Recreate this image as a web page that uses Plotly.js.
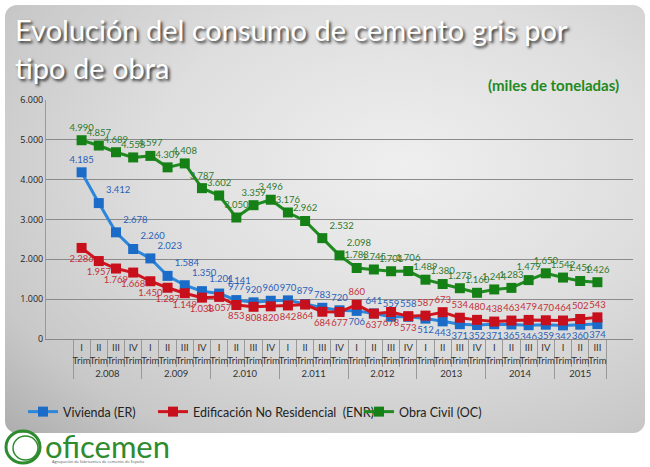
<!DOCTYPE html>
<html>
<head>
<meta charset="utf-8">
<script src="https://cdn.plot.ly/plotly-3.0.1.min.js"></script>
<style>
  html, body { margin: 0; padding: 0; background: #ffffff; }
  #wrap { position: relative; width: 650px; height: 467px; overflow: hidden; }
  #bg { position: absolute; left: 5px; top: 5px; width: 640px; height: 428px; border-radius: 12px;
        background: radial-gradient(ellipse at 62% 38%, #efefef 0%, #dedede 45%, #c8c8c8 80%, #adadad 100%); }
  #chart { position: absolute; left: 0; top: 0; width: 650px; height: 467px; }
</style>
</head>
<body>
<div id="wrap"><div id="bg"></div><div id="chart"></div></div>
<script>
// ---- data ----
const years = ["2.008","2.008","2.008","2.008","2.009","2.009","2.009","2.009",
               "2.010","2.010","2.010","2.010","2.011","2.011","2.011","2.011",
               "2.012","2.012","2.012","2.012","2013","2013","2013","2013",
               "2014","2014","2014","2014","2015","2015","2015"];
const quarters = ["I<br>Trim","II<br>Trim","III<br>Trim","IV<br>Trim",
                  "I<br>Trim","II<br>Trim","III<br>Trim","IV<br>Trim",
                  "I<br>Trim","II<br>Trim","III<br>Trim","IV<br>Trim",
                  "I<br>Trim","II<br>Trim","III<br>Trim","IV<br>Trim",
                  "I<br>Trim","II<br>Trim","III<br>Trim","IV<br>Trim",
                  "I<br>Trim","II<br>Trim","III<br>Trim","IV<br>Trim",
                  "I<br>Trim","II<br>Trim","III<br>Trim","IV<br>Trim",
                  "I<br>Trim","II<br>Trim","III<br>Trim"];
const vivienda = [4185,3412,2678,2260,2023,1584,1350,1201,1141,977,920,960,970,879,783,720,
                  706,641,559,558,512,443,371,352,371,365,346,359,342,360,374];
const noResidencial = [2286,1957,1769,1668,1450,1287,1149,1038,1057,853,808,820,842,864,684,677,
                       860,637,678,573,587,673,534,480,438,463,479,470,464,502,543];
const obraCivil = [4990,4857,4689,4558,4597,4309,4408,3787,3602,3050,3359,3496,3176,2962,2532,2098,
                   1783,1745,1701,1706,1489,1380,1275,1160,1244,1283,1479,1650,1542,1456,1426];
const seriesNames = ["Vivienda (ER)","Edificación No Residencial  (ENR)","Obra Civil (OC)"];
const yTicks = [0,1000,2000,3000,4000,5000,6000];

// ---- label placement (style only) ----
const posBlue = vivienda.map((v,i) => {
  if (i === 0) return "top center";
  if (i >= 1 && i <= 8) return "top right";
  if (i === 16) return "bottom center";
  if (i >= 20) return "bottom center";
  return "top center";
});
const posRed = noResidencial.map((v,i) => {
  if (i === 16) return "top center";
  if (i >= 17 && i <= 19) return "bottom center";
  if (i >= 20) return "top center";
  return "bottom center";
});
const posGreen = obraCivil.map((v,i) => (i === 14 || i === 15) ? "top right" : "top center");

const x = [years, quarters];
const labFont = "Lato, Open Sans, sans-serif";

function trace(name, y, lineColor, markColor, txtColor, pos, legend) {
  return {
    type: "scatter", mode: "lines+markers+text", name: name, x: x, y: y,
    line: {color: lineColor, width: 3},
    marker: {symbol: "square", size: 10, color: markColor, line: {color: markColor, width: 0}},
    texttemplate: "%{y:,d}", textposition: pos,
    textfont: {family: labFont, size: 9.5, color: txtColor},
    legend: legend, cliponaxis: false, hoverinfo: "skip"
  };
}

const data = [
  trace(seriesNames[0], vivienda, "#2c86db", "#1a6cc8", "#2a60b8", posBlue, "legend"),
  trace(seriesNames[1], noResidencial, "#d0141e", "#c8101c", "#c4303a", posRed, "legend2"),
  trace(seriesNames[2], obraCivil, "#1f8a1f", "#158015", "#2e7a2e", posGreen, "legend3")
];

function px2x(p) { return (p - 46) / 587; }
function px2y(p) { return (339 - p) / 239; }

const legendFont = {family: "Lato, Open Sans, sans-serif", size: 12.5, color: "#222"};
const legBase = {orientation: "h", bgcolor: "rgba(0,0,0,0)", font: legendFont, yanchor: "middle",
                 xanchor: "left", itemwidth: 30, tracegroupgap: 0};

const layout = {
  width: 650, height: 467,
  margin: {l: 46, r: 17, t: 100, b: 128},
  paper_bgcolor: "rgba(0,0,0,0)", plot_bgcolor: "rgba(0,0,0,0)",
  separators: ",.",
  showlegend: true,
  xaxis: {
    type: "multicategory", showgrid: false, showline: true, linecolor: "#888", linewidth: 1,
    ticks: "outside", tickson: "boundaries", ticklen: 27, tickcolor: "#999", tickwidth: 1,
    tickangle: 0,
    tickfont: {family: labFont, size: 9.5, color: "#333"},
    dividercolor: "#999", dividerwidth: 1, zeroline: false
  },
  yaxis: {
    range: [0, 6000], tickvals: yTicks, tickformat: ",d",
    showgrid: true, gridcolor: "#8a8a8a", gridwidth: 1,
    showline: true, linecolor: "#999", linewidth: 1, zeroline: false,
    ticks: "", tickfont: {family: "Open Sans, Arial, sans-serif", size: 9, color: "#222"}
  },
  legend:  Object.assign({}, legBase, {x: px2x(23), y: px2y(412)}),
  legend2: Object.assign({}, legBase, {x: px2x(153), y: px2y(412)}),
  legend3: Object.assign({}, legBase, {x: px2x(359), y: px2y(412)}),
  annotations: [
    {text: "Evolución del consumo de cemento gris por<br>tipo de obra", xref: "paper", yref: "paper",
     x: px2x(13), y: px2y(10), xanchor: "left", yanchor: "top", align: "left", showarrow: false,
     font: {family: "Lato, Open Sans, sans-serif", size: 29, color: "#ffffff",
            shadow: "2px 2px 3px rgba(0,0,0,0.8)"}},
    {text: "<b>(miles de toneladas)</b>", xref: "paper", yref: "paper", x: px2x(621), y: px2y(85),
     xanchor: "right", yanchor: "middle", showarrow: false,
     font: {family: "Lato, Open Sans, sans-serif", size: 15, color: "#1f8a1f"}},
    {text: "oficemen", xref: "paper", yref: "paper", x: px2x(43), y: px2y(446),
     xanchor: "left", yanchor: "middle", showarrow: false,
     font: {family: "Lato, Open Sans, sans-serif", size: 31, color: "#2e8b2e"}},
    {text: "Agrupación de fabricantes de cemento de España", xref: "paper", yref: "paper",
     x: px2x(50), y: px2y(461), xanchor: "left", yanchor: "middle", showarrow: false,
     font: {family: "Open Sans, Arial, sans-serif", size: 4, color: "#555"}}
  ],
  shapes: [
    {type: "circle", xref: "paper", yref: "paper", x0: px2x(6), x1: px2x(40), y0: px2y(463), y1: px2y(431),
     line: {color: "#2e8b2e", width: 3}, fillcolor: "rgba(0,0,0,0)"},
    {type: "circle", xref: "paper", yref: "paper", x0: px2x(13), x1: px2x(38), y0: px2y(460), y1: px2y(436),
     line: {color: "#2e8b2e", width: 1.5}, fillcolor: "rgba(0,0,0,0)"}
  ]
};

Plotly.newPlot("chart", data, layout, {displayModeBar: false, staticPlot: true});
</script>
</body>
</html>
